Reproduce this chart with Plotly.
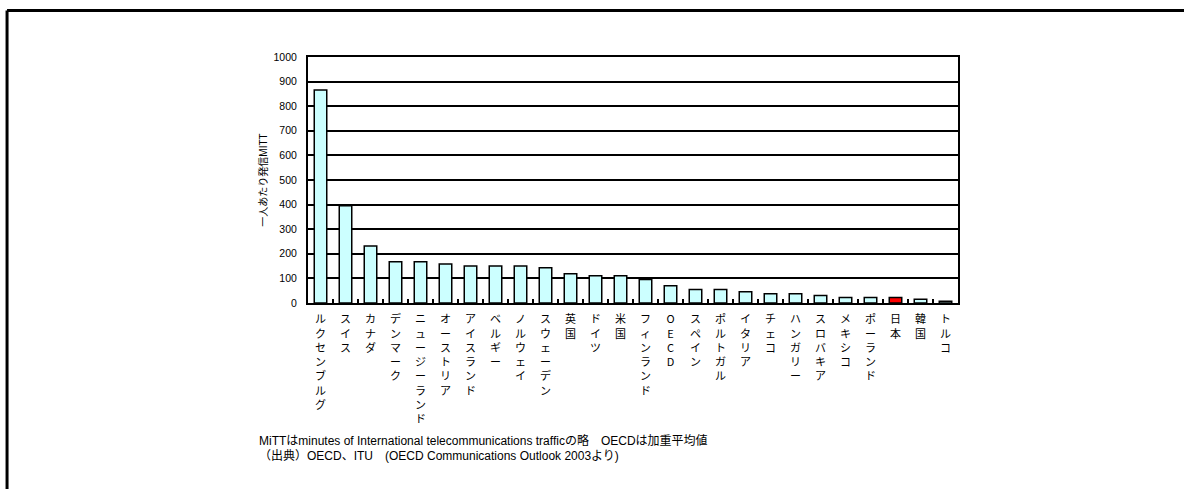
import plotly.graph_objects as go

# datos
paises = ["ルクセンブルグ", "スイス", "カナダ", "デンマーク", "ニュージーランド", "オーストリア",
          "アイスランド", "ベルギー", "ノルウェイ", "スウェーデン", "英国", "ドイツ", "米国",
          "フィンランド", "OECD", "スペイン", "ポルトガル", "イタリア", "チェコ", "ハンガリー",
          "スロバキア", "メキシコ", "ポーランド", "日本", "韓国", "トルコ"]
mitt = [866, 395, 232, 168, 168, 159, 150, 150, 150, 143, 119, 111, 111,
        96, 70, 55, 55, 46, 38, 38, 30, 22, 22, 22, 15, 7]
y_ticks = [0, 100, 200, 300, 400, 500, 600, 700, 800, 900, 1000]

FONT = "Liberation Sans, Arial, Noto Sans CJK JP"

# etiquetas verticales: un carácter por línea
etiquetas = ["<br>".join(list(p)) for p in paises]
colores = ["#FF0000" if p == "日本" else "#CCFFFF" for p in paises]

fig = go.Figure()
fig.add_trace(go.Bar(
    x=etiquetas, y=mitt,
    marker=dict(color=colores, line=dict(color="black", width=1.5)),
    width=0.5,
    hovertemplate="%{y}<extra></extra>",
))

fig.update_layout(
    width=1184, height=489,
    margin=dict(l=308, r=226, t=57, b=186),
    paper_bgcolor="white", plot_bgcolor="white",
    font=dict(family=FONT, size=10, color="black"),
    showlegend=False,
    xaxis=dict(
        type="category",
        showline=True, linecolor="black", linewidth=2, mirror=True,
        ticks="inside", tickson="boundaries", ticklen=4, tickwidth=1.5, tickcolor="black",
        showgrid=False,
        tickangle=0, ticklabelstandoff=5,
        tickfont=dict(family="Noto Sans CJK JP", size=11, color="black"),
    ),
    yaxis=dict(
        range=[0, 1000],
        tickvals=y_ticks,
        showline=True, linecolor="black", linewidth=2, mirror=True,
        showgrid=True, gridcolor="black", gridwidth=1.5,
        ticks="", ticklabelstandoff=7,
        tickfont=dict(family=FONT, size=10.5, color="black"),
        title=dict(text="一人あたり発信MITT", standoff=4,
                   font=dict(family=FONT, size=10, color="black")),
    ),
)

# marco exterior (líneas gruesas arriba e izquierda)
fig.add_shape(type="line", xref="paper", yref="paper",
              x0=-0.463, y0=1.189, x1=1.35, y1=1.189,
              line=dict(color="black", width=3))
fig.add_shape(type="line", xref="paper", yref="paper",
              x0=-0.463, y0=1.189, x1=-0.463, y1=-0.76,
              line=dict(color="black", width=3))

# notas
fig.add_annotation(
    xref="paper", yref="paper", x=-0.078, y=-0.56, xanchor="left", yanchor="middle",
    text="MiTTはminutes of International telecommunications trafficの略　OECDは加重平均値",
    showarrow=False, font=dict(family=FONT, size=12, color="black"), align="left",
)
fig.add_annotation(
    xref="paper", yref="paper", x=-0.078, y=-0.622, xanchor="left", yanchor="middle",
    text="（出典）OECD、ITU　(OECD Communications Outlook 2003より)",
    showarrow=False, font=dict(family=FONT, size=12, color="black"), align="left",
)

# sin margen del body para que la figura empiece en (0, 0)
fig.write_html("out.html", config={"displayModeBar": False},
               post_script="document.body.style.margin='0';")
